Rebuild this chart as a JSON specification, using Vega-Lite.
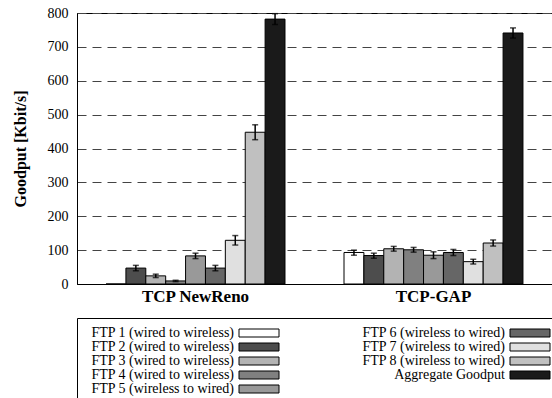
{
  "$schema": "https://vega.github.io/schema/vega-lite/v6.json",
  "autosize": {"type": "none"},
  "padding": {"left": 77, "top": 13, "right": 0, "bottom": 114},
  "width": 475,
  "height": 271,
  "data": {
    "values": [
      {"protocol": "TCP NewReno", "series": "FTP 1 (wired to wireless)", "value": 0, "lo": null, "hi": null},
      {"protocol": "TCP NewReno", "series": "FTP 2 (wired to wireless)", "value": 47, "lo": 39, "hi": 55},
      {"protocol": "TCP NewReno", "series": "FTP 3 (wired to wireless)", "value": 24, "lo": 19, "hi": 29},
      {"protocol": "TCP NewReno", "series": "FTP 4 (wired to wireless)", "value": 9, "lo": 7, "hi": 11},
      {"protocol": "TCP NewReno", "series": "FTP 5 (wireless to wired)", "value": 83, "lo": 75, "hi": 91},
      {"protocol": "TCP NewReno", "series": "FTP 6 (wireless to wired)", "value": 47, "lo": 39, "hi": 55},
      {"protocol": "TCP NewReno", "series": "FTP 7 (wireless to wired)", "value": 129, "lo": 115, "hi": 143},
      {"protocol": "TCP NewReno", "series": "FTP 8 (wireless to wired)", "value": 448, "lo": 426, "hi": 470},
      {"protocol": "TCP NewReno", "series": "Aggregate Goodput", "value": 782, "lo": 766, "hi": 798},
      {"protocol": "TCP-GAP", "series": "FTP 1 (wired to wireless)", "value": 93, "lo": 85, "hi": 100},
      {"protocol": "TCP-GAP", "series": "FTP 2 (wired to wireless)", "value": 84, "lo": 76, "hi": 91},
      {"protocol": "TCP-GAP", "series": "FTP 3 (wired to wireless)", "value": 104, "lo": 97, "hi": 111},
      {"protocol": "TCP-GAP", "series": "FTP 4 (wired to wireless)", "value": 101, "lo": 94, "hi": 108},
      {"protocol": "TCP-GAP", "series": "FTP 5 (wireless to wired)", "value": 85, "lo": 75, "hi": 95},
      {"protocol": "TCP-GAP", "series": "FTP 6 (wireless to wired)", "value": 93, "lo": 84, "hi": 102},
      {"protocol": "TCP-GAP", "series": "FTP 7 (wireless to wired)", "value": 66, "lo": 59, "hi": 73},
      {"protocol": "TCP-GAP", "series": "FTP 8 (wireless to wired)", "value": 121, "lo": 112, "hi": 130},
      {"protocol": "TCP-GAP", "series": "Aggregate Goodput", "value": 741, "lo": 726, "hi": 756}
    ]
  },
  "encoding": {
    "x": {
      "field": "protocol", "type": "nominal",
      "sort": ["TCP NewReno", "TCP-GAP"],
      "scale": {"paddingInner": 0.248, "paddingOuter": 0.122},
      "axis": {
        "title": null, "labelAngle": 0, "ticks": false, "labelPadding": 4,
        "labelFont": "Liberation Serif",
        "labelFontSize": 17, "labelFontWeight": "bold", "labelColor": "black",
        "domainColor": "black", "domainWidth": 1, "grid": false
      }
    },
    "xOffset": {
      "field": "series", "type": "nominal",
      "sort": ["FTP 1 (wired to wireless)", "FTP 2 (wired to wireless)", "FTP 3 (wired to wireless)", "FTP 4 (wired to wireless)", "FTP 5 (wireless to wired)", "FTP 6 (wireless to wired)", "FTP 7 (wireless to wired)", "FTP 8 (wireless to wired)", "Aggregate Goodput"],
      "scale": {"paddingInner": 0, "paddingOuter": 0}
    }
  },
  "layer": [
    {
      "mark": {"type": "bar", "stroke": "black", "strokeWidth": 1},
      "encoding": {
        "y": {
          "field": "value", "type": "quantitative", "title": "Goodput [Kbit/s]",
          "scale": {"domain": [0, 800], "nice": false},
          "axis": {"values": [0, 100, 200, 300, 400, 500, 600, 700, 800], "labelFont": "Liberation Serif", "labelFontSize": 14}
        },
        "color": {
          "field": "series", "type": "nominal",
          "scale": {
            "domain": ["FTP 1 (wired to wireless)", "FTP 2 (wired to wireless)", "FTP 3 (wired to wireless)", "FTP 4 (wired to wireless)", "FTP 5 (wireless to wired)", "FTP 6 (wireless to wired)", "FTP 7 (wireless to wired)", "FTP 8 (wireless to wired)", "Aggregate Goodput"],
            "range": ["#ffffff", "#4d4d4d", "#b3b3b3", "#808080", "#999999", "#666666", "#e0e0e0", "#c0c0c0", "#1a1a1a"]
          },
          "legend": {
            "title": null, "orient": "none", "legendX": 0, "legendY": 305,
            "columns": 2, "columnPadding": 75, "rowPadding": 0,
            "strokeColor": "black", "padding": 8,
            "labelFont": "Liberation Serif", "labelFontSize": 14, "labelColor": "black",
            "labelAlign": "right", "labelOffset": -32, "labelLimit": 400,
            "symbolType": "M-4,-0.8H4V0.8H-4Z", "symbolSize": 100, "symbolOffset": 167,
            "symbolStrokeColor": "black", "symbolStrokeWidth": 1
          }
        }
      }
    },
    {
      "mark": {"type": "rule", "color": "black", "strokeWidth": 1.5},
      "encoding": {
        "y": {"field": "lo", "type": "quantitative", "title": "Goodput [Kbit/s]", "axis": {"values": [0, 100, 200, 300, 400, 500, 600, 700, 800]}},
        "y2": {"field": "hi"}
      }
    },
    {
      "mark": {"type": "tick", "color": "black", "thickness": 1.5, "size": 6},
      "encoding": {
        "y": {"field": "lo", "type": "quantitative", "title": "Goodput [Kbit/s]", "axis": {"values": [0, 100, 200, 300, 400, 500, 600, 700, 800]}}
      }
    },
    {
      "mark": {"type": "tick", "color": "black", "thickness": 1.5, "size": 6},
      "encoding": {
        "y": {"field": "hi", "type": "quantitative", "title": "Goodput [Kbit/s]", "axis": {"values": [0, 100, 200, 300, 400, 500, 600, 700, 800]}}
      }
    }
  ],
  "config": {
    "font": "Liberation Serif",
    "view": {"stroke": "black", "strokeWidth": 1},
    "axisY": {
      "grid": true, "gridDash": [9, 6], "gridColor": "#444444", "gridWidth": 1,
      "ticks": false, "labelPadding": 9, "labelFont": "Liberation Serif", "labelFontSize": 14, "labelColor": "black",
      "labelOverlap": false,
      "domainColor": "black", "domainWidth": 1,
      "titleFont": "Liberation Serif", "titleFontSize": 16, "titleFontWeight": "bold", "titleColor": "black",
      "titleX": -57, "titleY": 135.5, "titleBaseline": "middle", "titleAngle": -90
    }
  }
}
